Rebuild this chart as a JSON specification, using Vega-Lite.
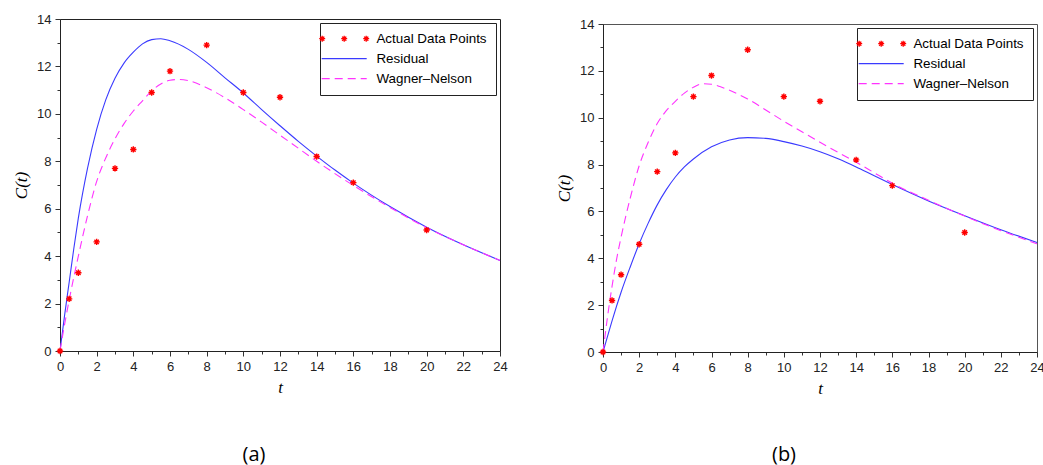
{
  "$schema": "https://vega.github.io/schema/vega-lite/v6.json",
  "background": "white",
  "padding": {"left": 12, "top": 12, "right": 0, "bottom": 0},
  "datasets": {
    "points": [
      {"series": "Actual Data Points", "t": 0, "C": 0},
      {"series": "Actual Data Points", "t": 0.5, "C": 2.2},
      {"series": "Actual Data Points", "t": 1, "C": 3.3},
      {"series": "Actual Data Points", "t": 2, "C": 4.6},
      {"series": "Actual Data Points", "t": 3, "C": 7.7},
      {"series": "Actual Data Points", "t": 4, "C": 8.5},
      {"series": "Actual Data Points", "t": 5, "C": 10.9},
      {"series": "Actual Data Points", "t": 6, "C": 11.8},
      {"series": "Actual Data Points", "t": 8, "C": 12.9},
      {"series": "Actual Data Points", "t": 10, "C": 10.9},
      {"series": "Actual Data Points", "t": 12, "C": 10.7},
      {"series": "Actual Data Points", "t": 14, "C": 8.2},
      {"series": "Actual Data Points", "t": 16, "C": 7.1},
      {"series": "Actual Data Points", "t": 20, "C": 5.1}
    ],
    "curves": [
      {"panel": "a", "series": "Residual", "t": 0, "C": 0},
      {"panel": "a", "series": "Residual", "t": 0.25, "C": 1.5},
      {"panel": "a", "series": "Residual", "t": 0.5, "C": 2.9},
      {"panel": "a", "series": "Residual", "t": 0.75, "C": 4.3},
      {"panel": "a", "series": "Residual", "t": 1, "C": 5.6},
      {"panel": "a", "series": "Residual", "t": 1.5, "C": 7.7},
      {"panel": "a", "series": "Residual", "t": 2, "C": 9.35},
      {"panel": "a", "series": "Residual", "t": 2.5, "C": 10.6},
      {"panel": "a", "series": "Residual", "t": 3, "C": 11.5},
      {"panel": "a", "series": "Residual", "t": 3.5, "C": 12.15},
      {"panel": "a", "series": "Residual", "t": 4, "C": 12.6},
      {"panel": "a", "series": "Residual", "t": 4.5, "C": 12.95},
      {"panel": "a", "series": "Residual", "t": 5, "C": 13.13},
      {"panel": "a", "series": "Residual", "t": 5.5, "C": 13.17},
      {"panel": "a", "series": "Residual", "t": 6, "C": 13.08},
      {"panel": "a", "series": "Residual", "t": 7, "C": 12.72},
      {"panel": "a", "series": "Residual", "t": 8, "C": 12.17},
      {"panel": "a", "series": "Residual", "t": 9, "C": 11.52},
      {"panel": "a", "series": "Residual", "t": 10, "C": 10.88},
      {"panel": "a", "series": "Residual", "t": 11, "C": 10.18},
      {"panel": "a", "series": "Residual", "t": 12, "C": 9.5},
      {"panel": "a", "series": "Residual", "t": 13, "C": 8.84},
      {"panel": "a", "series": "Residual", "t": 14, "C": 8.22},
      {"panel": "a", "series": "Residual", "t": 15, "C": 7.63},
      {"panel": "a", "series": "Residual", "t": 16, "C": 7.08},
      {"panel": "a", "series": "Residual", "t": 18, "C": 6.09},
      {"panel": "a", "series": "Residual", "t": 20, "C": 5.22},
      {"panel": "a", "series": "Residual", "t": 22, "C": 4.48},
      {"panel": "a", "series": "Residual", "t": 24, "C": 3.82},
      {"panel": "a", "series": "Wagner–Nelson", "t": 0, "C": 0},
      {"panel": "a", "series": "Wagner–Nelson", "t": 0.25, "C": 1.12},
      {"panel": "a", "series": "Wagner–Nelson", "t": 0.5, "C": 2.15},
      {"panel": "a", "series": "Wagner–Nelson", "t": 0.75, "C": 3.1},
      {"panel": "a", "series": "Wagner–Nelson", "t": 1, "C": 4.0},
      {"panel": "a", "series": "Wagner–Nelson", "t": 1.5, "C": 5.7},
      {"panel": "a", "series": "Wagner–Nelson", "t": 2, "C": 7.15},
      {"panel": "a", "series": "Wagner–Nelson", "t": 2.5, "C": 8.15},
      {"panel": "a", "series": "Wagner–Nelson", "t": 3, "C": 8.95},
      {"panel": "a", "series": "Wagner–Nelson", "t": 3.5, "C": 9.6},
      {"panel": "a", "series": "Wagner–Nelson", "t": 4, "C": 10.12},
      {"panel": "a", "series": "Wagner–Nelson", "t": 4.5, "C": 10.55},
      {"panel": "a", "series": "Wagner–Nelson", "t": 5, "C": 10.97},
      {"panel": "a", "series": "Wagner–Nelson", "t": 5.5, "C": 11.26},
      {"panel": "a", "series": "Wagner–Nelson", "t": 6, "C": 11.42},
      {"panel": "a", "series": "Wagner–Nelson", "t": 6.5, "C": 11.45},
      {"panel": "a", "series": "Wagner–Nelson", "t": 7, "C": 11.4},
      {"panel": "a", "series": "Wagner–Nelson", "t": 8, "C": 11.1},
      {"panel": "a", "series": "Wagner–Nelson", "t": 9, "C": 10.68},
      {"panel": "a", "series": "Wagner–Nelson", "t": 10, "C": 10.18},
      {"panel": "a", "series": "Wagner–Nelson", "t": 11, "C": 9.65},
      {"panel": "a", "series": "Wagner–Nelson", "t": 12, "C": 9.1},
      {"panel": "a", "series": "Wagner–Nelson", "t": 13, "C": 8.55},
      {"panel": "a", "series": "Wagner–Nelson", "t": 14, "C": 8.0},
      {"panel": "a", "series": "Wagner–Nelson", "t": 16, "C": 6.98},
      {"panel": "a", "series": "Wagner–Nelson", "t": 18, "C": 6.05},
      {"panel": "a", "series": "Wagner–Nelson", "t": 20, "C": 5.2},
      {"panel": "a", "series": "Wagner–Nelson", "t": 22, "C": 4.48},
      {"panel": "a", "series": "Wagner–Nelson", "t": 24, "C": 3.82},
      {"panel": "b", "series": "Residual", "t": 0, "C": 0},
      {"panel": "b", "series": "Residual", "t": 0.25, "C": 0.67},
      {"panel": "b", "series": "Residual", "t": 0.5, "C": 1.33},
      {"panel": "b", "series": "Residual", "t": 1, "C": 2.55},
      {"panel": "b", "series": "Residual", "t": 1.5, "C": 3.62},
      {"panel": "b", "series": "Residual", "t": 2, "C": 4.62},
      {"panel": "b", "series": "Residual", "t": 2.5, "C": 5.5},
      {"panel": "b", "series": "Residual", "t": 3, "C": 6.28},
      {"panel": "b", "series": "Residual", "t": 3.5, "C": 6.93},
      {"panel": "b", "series": "Residual", "t": 4, "C": 7.47},
      {"panel": "b", "series": "Residual", "t": 4.5, "C": 7.9},
      {"panel": "b", "series": "Residual", "t": 5, "C": 8.24},
      {"panel": "b", "series": "Residual", "t": 6, "C": 8.76},
      {"panel": "b", "series": "Residual", "t": 7, "C": 9.05},
      {"panel": "b", "series": "Residual", "t": 8, "C": 9.15},
      {"panel": "b", "series": "Residual", "t": 9, "C": 9.12},
      {"panel": "b", "series": "Residual", "t": 10, "C": 8.98},
      {"panel": "b", "series": "Residual", "t": 11, "C": 8.79},
      {"panel": "b", "series": "Residual", "t": 12, "C": 8.55},
      {"panel": "b", "series": "Residual", "t": 13, "C": 8.25},
      {"panel": "b", "series": "Residual", "t": 14, "C": 7.9},
      {"panel": "b", "series": "Residual", "t": 15, "C": 7.52},
      {"panel": "b", "series": "Residual", "t": 16, "C": 7.15},
      {"panel": "b", "series": "Residual", "t": 18, "C": 6.45},
      {"panel": "b", "series": "Residual", "t": 20, "C": 5.82},
      {"panel": "b", "series": "Residual", "t": 22, "C": 5.22},
      {"panel": "b", "series": "Residual", "t": 24, "C": 4.67},
      {"panel": "b", "series": "Wagner–Nelson", "t": 0, "C": 0},
      {"panel": "b", "series": "Wagner–Nelson", "t": 0.25, "C": 1.5},
      {"panel": "b", "series": "Wagner–Nelson", "t": 0.5, "C": 2.8},
      {"panel": "b", "series": "Wagner–Nelson", "t": 0.75, "C": 3.95},
      {"panel": "b", "series": "Wagner–Nelson", "t": 1, "C": 4.9},
      {"panel": "b", "series": "Wagner–Nelson", "t": 1.5, "C": 6.55},
      {"panel": "b", "series": "Wagner–Nelson", "t": 2, "C": 7.95},
      {"panel": "b", "series": "Wagner–Nelson", "t": 2.5, "C": 8.95},
      {"panel": "b", "series": "Wagner–Nelson", "t": 3, "C": 9.75},
      {"panel": "b", "series": "Wagner–Nelson", "t": 3.5, "C": 10.3},
      {"panel": "b", "series": "Wagner–Nelson", "t": 4, "C": 10.7},
      {"panel": "b", "series": "Wagner–Nelson", "t": 4.5, "C": 11.05},
      {"panel": "b", "series": "Wagner–Nelson", "t": 5, "C": 11.3},
      {"panel": "b", "series": "Wagner–Nelson", "t": 5.5, "C": 11.45},
      {"panel": "b", "series": "Wagner–Nelson", "t": 6, "C": 11.43},
      {"panel": "b", "series": "Wagner–Nelson", "t": 6.5, "C": 11.32},
      {"panel": "b", "series": "Wagner–Nelson", "t": 7, "C": 11.17},
      {"panel": "b", "series": "Wagner–Nelson", "t": 8, "C": 10.8},
      {"panel": "b", "series": "Wagner–Nelson", "t": 9, "C": 10.33},
      {"panel": "b", "series": "Wagner–Nelson", "t": 10, "C": 9.85},
      {"panel": "b", "series": "Wagner–Nelson", "t": 11, "C": 9.4},
      {"panel": "b", "series": "Wagner–Nelson", "t": 12, "C": 8.95},
      {"panel": "b", "series": "Wagner–Nelson", "t": 13, "C": 8.52},
      {"panel": "b", "series": "Wagner–Nelson", "t": 14, "C": 8.1},
      {"panel": "b", "series": "Wagner–Nelson", "t": 15, "C": 7.65},
      {"panel": "b", "series": "Wagner–Nelson", "t": 16, "C": 7.2},
      {"panel": "b", "series": "Wagner–Nelson", "t": 18, "C": 6.48},
      {"panel": "b", "series": "Wagner–Nelson", "t": 20, "C": 5.8},
      {"panel": "b", "series": "Wagner–Nelson", "t": 22, "C": 5.18},
      {"panel": "b", "series": "Wagner–Nelson", "t": 24, "C": 4.62}
    ]
  },
  "resolve": {"scale": {"color": "independent"}, "legend": {"color": "independent"}},
  "spacing": 47,
  "hconcat": [
    {
      "width": 440,
      "height": 332,
      "view": {"stroke": "#222"},
      "title": {"text": "(a)", "orient": "bottom", "anchor": "middle", "frame": "group", "dx": -26, "offset": 50, "font": "Open Sans", "fontSize": 20, "fontWeight": "normal", "color": "black"},
      "encoding": {
        "x": {"field": "t", "type": "quantitative", "scale": {"domain": [0, 24], "nice": false, "zero": false},
          "axis": {"title": "t", "values": [0,1,2,3,4,5,6,7,8,9,10,11,12,13,14,15,16,17,18,19,20,21,22,23,24], "labelExpr": "datum.value % 2 === 0 ? datum.label : ''", "tickSize": {"condition": {"test": "datum.value % 2 === 0", "value": 5}, "value": 3}, "titlePadding": 6}},
        "y": {"field": "C", "type": "quantitative", "scale": {"domain": [0, 14], "nice": false, "zero": false},
          "axis": {"title": "C(t)", "values": [0,1,2,3,4,5,6,7,8,9,10,11,12,13,14], "labelExpr": "datum.value % 2 === 0 ? datum.label : ''", "tickSize": {"condition": {"test": "datum.value % 2 === 0", "value": 5}, "value": 3}, "titlePadding": 6}},
        "color": {"field": "series", "type": "nominal",
          "scale": {"domain": ["Actual Data Points", "Residual", "Wagner–Nelson"], "range": ["#ff0000", "#3a3aff", "#ff33ff"]},
          "legend": {"title": null, "orient": "top-right", "offset": 4, "padding": 9, "fillColor": "white", "strokeColor": "#222", "symbolSize": 100, "symbolOffset": 8.5, "labelOffset": 25.5, "rowPadding": 5, "labelFont": "Liberation Sans", "labelFontSize": 13.4, "labelColor": "black", "labelLimit": 300,
            "encoding": {"symbols": {
              "shape": {"value": {"expr": "datum.value === 'Actual Data Points' ? 'M-5,0H-3.8M-4.4,-0.6V0.6M-4.82,-0.42L-3.98,0.42M-4.82,0.42L-3.98,-0.42M-0.6,0H0.6M0,-0.6V0.6M-0.42,-0.42L0.42,0.42M-0.42,0.42L0.42,-0.42M3.8,0H5M4.4,-0.6V0.6M3.98,-0.42L4.82,0.42M3.98,0.42L4.82,-0.42' : 'M-4.5,0H4.5'"}},
              "stroke": {"value": {"expr": "datum.value === 'Actual Data Points' ? '#ff0000' : datum.value === 'Residual' ? '#3a3aff' : '#ff33ff'"}},
              "strokeDash": {"value": {"expr": "datum.value === 'Wagner–Nelson' ? [8, 5] : [1, 0]"}},
              "fill": {"value": "transparent"},
              "strokeWidth": {"value": 1.3},
              "opacity": {"value": 1}
            }}}
        }
      },
      "layer": [
        {"data": {"name": "curves"}, "transform": [{"filter": "datum.panel === 'a' && datum.series === 'Residual'"}],
          "mark": {"type": "line", "strokeWidth": 1.1, "interpolate": "monotone"}},
        {"data": {"name": "curves"}, "transform": [{"filter": "datum.panel === 'a' && datum.series === 'Wagner–Nelson'"}],
          "mark": {"type": "line", "strokeWidth": 1.1, "strokeDash": [8, 5], "interpolate": "monotone"}},
        {"data": {"name": "points"},
          "mark": {"type": "point", "shape": "M-1,0H1M0,-1V1M-0.7,-0.7L0.7,0.7M-0.7,0.7L0.7,-0.7", "filled": false, "size": 40, "strokeWidth": 1.4, "opacity": 1}}
      ]
    },
    {
      "spacing": 4,
      "bounds": "flush",
      "resolve": {"scale": {"color": "independent"}, "legend": {"color": "independent"}},
      "vconcat": [
        {
          "width": 434,
          "height": 1,
          "view": {"stroke": null},
          "data": {"values": []},
          "mark": "point"
        },
        {
          "width": 434,
          "height": 328,
          "view": {"stroke": "#555"},
          "title": {"text": "(b)", "orient": "bottom", "anchor": "middle", "frame": "group", "dx": -36, "offset": 49, "font": "Open Sans", "fontSize": 20, "fontWeight": "normal", "color": "black"},
          "encoding": {
            "x": {"field": "t", "type": "quantitative", "scale": {"domain": [0, 24], "nice": false, "zero": false},
              "axis": {"title": "t", "values": [0,1,2,3,4,5,6,7,8,9,10,11,12,13,14,15,16,17,18,19,20,21,22,23,24], "labelExpr": "datum.value % 2 === 0 ? datum.label : ''", "tickSize": {"condition": {"test": "datum.value % 2 === 0", "value": 5}, "value": 3}, "titlePadding": 6}},
            "y": {"field": "C", "type": "quantitative", "scale": {"domain": [0, 14], "nice": false, "zero": false},
              "axis": {"title": "C(t)", "values": [0,1,2,3,4,5,6,7,8,9,10,11,12,13,14], "labelExpr": "datum.value % 2 === 0 ? datum.label : ''", "tickSize": {"condition": {"test": "datum.value % 2 === 0", "value": 5}, "value": 3}, "titlePadding": 6}},
            "color": {"field": "series", "type": "nominal",
              "scale": {"domain": ["Actual Data Points", "Residual", "Wagner–Nelson"], "range": ["#ff0000", "#3a3aff", "#ff33ff"]},
              "legend": {"title": null, "orient": "top-right", "offset": 4, "padding": 9, "fillColor": "white", "strokeColor": "#222", "symbolSize": 100, "symbolOffset": 8.5, "labelOffset": 25.5, "rowPadding": 5, "labelFont": "Liberation Sans", "labelFontSize": 13.4, "labelColor": "black", "labelLimit": 300,
                "encoding": {"symbols": {
                  "shape": {"value": {"expr": "datum.value === 'Actual Data Points' ? 'M-5,0H-3.8M-4.4,-0.6V0.6M-4.82,-0.42L-3.98,0.42M-4.82,0.42L-3.98,-0.42M-0.6,0H0.6M0,-0.6V0.6M-0.42,-0.42L0.42,0.42M-0.42,0.42L0.42,-0.42M3.8,0H5M4.4,-0.6V0.6M3.98,-0.42L4.82,0.42M3.98,0.42L4.82,-0.42' : 'M-4.5,0H4.5'"}},
                  "stroke": {"value": {"expr": "datum.value === 'Actual Data Points' ? '#ff0000' : datum.value === 'Residual' ? '#3a3aff' : '#ff33ff'"}},
                  "strokeDash": {"value": {"expr": "datum.value === 'Wagner–Nelson' ? [8, 5] : [1, 0]"}},
                  "fill": {"value": "transparent"},
                  "strokeWidth": {"value": 1.3},
                  "opacity": {"value": 1}
                }}}
            }
          },
          "layer": [
            {"data": {"name": "curves"}, "transform": [{"filter": "datum.panel === 'b' && datum.series === 'Residual'"}],
              "mark": {"type": "line", "strokeWidth": 1.1, "interpolate": "monotone"}},
            {"data": {"name": "curves"}, "transform": [{"filter": "datum.panel === 'b' && datum.series === 'Wagner–Nelson'"}],
              "mark": {"type": "line", "strokeWidth": 1.1, "strokeDash": [8, 5], "interpolate": "monotone"}},
            {"data": {"name": "points"},
              "mark": {"type": "point", "shape": "M-1,0H1M0,-1V1M-0.7,-0.7L0.7,0.7M-0.7,0.7L0.7,-0.7", "filled": false, "size": 40, "strokeWidth": 1.4, "opacity": 1}}
          ]
        }
      ]
    }
  ],
  "config": {
    "axis": {"grid": false, "labelFont": "Liberation Sans", "labelFontSize": 13, "labelColor": "#222", "tickColor": "#333", "domainColor": "#222", "titleFont": "Liberation Serif", "titleFontStyle": "italic", "titleFontWeight": "normal", "titleFontSize": 17, "titleColor": "black", "labelPadding": 4, "labelFlush": false, "labelOverlap": false}
  }
}
